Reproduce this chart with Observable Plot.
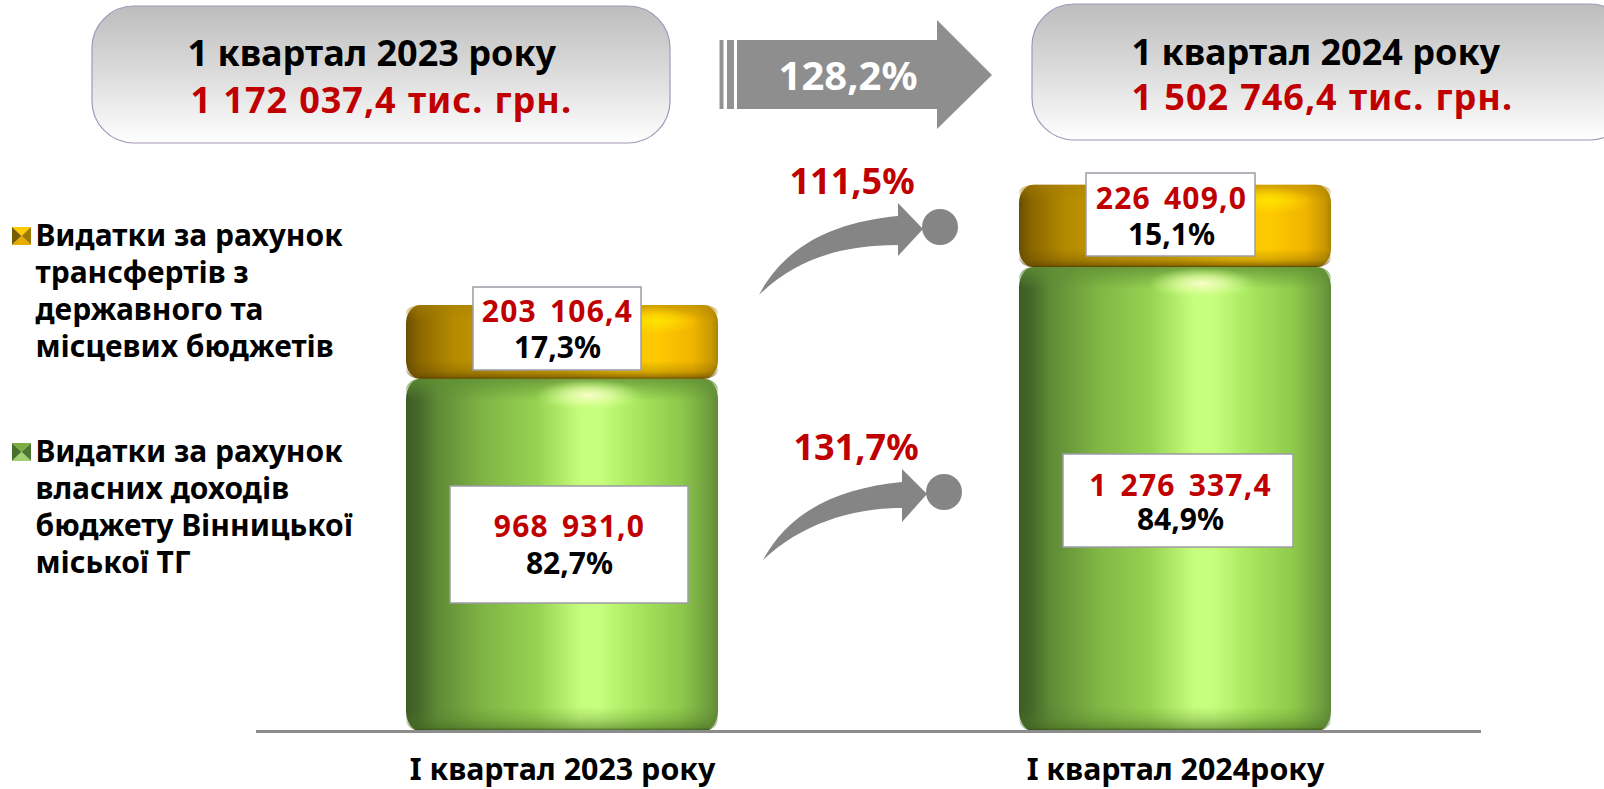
<!DOCTYPE html>
<html lang="uk">
<head>
<meta charset="utf-8">
<script src="https://cdn.jsdelivr.net/npm/d3@7"></script>
<script src="https://cdn.jsdelivr.net/npm/@observablehq/plot@0.6"></script>
<style>
html,body{margin:0;padding:0;background:#fff;overflow:hidden}
svg{display:block}
</style>
</head>
<body>
<div id="chart"></div>
<script>
// ---------- data ----------
const quarters = ["I квартал 2023 року", "I квартал 2024року"];
const ownIncome = [968931.0, 1276337.4];
const transfers = [203106.4, 226409.0];
const ownShare = ["82,7%", "84,9%"];
const transferShare = ["17,3%", "15,1%"];
const ownGrowth = "131,7%";
const transferGrowth = "111,5%";
const totalGrowth = "128,2%";
const headerTitles = ["1 квартал 2023 року", "1 квартал 2024 року"];
const headerTotals = ["1 172 037,4 тис. грн.", "1 502 746,4 тис. грн."];
const legendEntries = [
  "Видатки за рахунок\nтрансфертів з\nдержавного та\nмісцевих бюджетів",
  "Видатки за рахунок\nвласних доходів\nбюджету Вінницької\nміської ТГ"
];

// ---------- layout ----------
const W = 1604, H = 789, mL = 256, mR = 123, base = 731;
const yMax = 2011000;
const pxPerUnit = base / yMax;
const u = px => px / pxPerUnit;          // pixels -> data units
const uAt = py => (base - py) / pxPerUnit;
const F = "'Noto Sans', sans-serif";
const RED = "#c00000";

const fmt = d3.formatLocale({decimal: ",", thousands: " ", grouping: [3], currency: ["", ""]}).format(",.1f");

const rows = quarters.map((q, i) => ({
  quarter: q, own: ownIncome[i], transfer: transfers[i],
  top: ownIncome[i] + transfers[i],
  ownShare: ownShare[i], transferShare: transferShare[i]
}));

const stops = (g, list) => list.forEach(([o, c, a]) => g.append("stop").attr("offset", o).attr("stop-color", c).attr("stop-opacity", a ?? 1));
function defs() {
  const d = d3.create("svg:defs");
  const lin = (id, vertical) => d.append("linearGradient").attr("id", id).attr("x1", 0).attr("y1", 0).attr("x2", vertical ? 0 : 1).attr("y2", vertical ? 1 : 0);
  stops(lin("greenH"), [[0,"#3d5c24"],[.04,"#45682a"],[.1,"#5f8a36"],[.25,"#7fb545"],[.42,"#97d352"],[.56,"#c6fd7c"],[.62,"#c6ff7e"],[.74,"#a8e75e"],[.88,"#8ec94b"],[.97,"#709f3e"],[1,"#5f8a38"]]);
  stops(lin("goldH"), [[0,"#6b4f00"],[.04,"#8a6600"],[.15,"#b48a00"],[.32,"#c89c00"],[.5,"#d8aa00"],[.68,"#f8c400"],[.8,"#ffca00"],[.92,"#f0b400"],[.98,"#c89800"],[1,"#a88400"]]);
  stops(lin("greenTop", true), [[0,"#5f8f34",.8],[1,"#5f8f34",0]]);
  stops(lin("greenBottom", true), [[0,"#4f7a28",0],[.45,"#4f7a28",.22],[.85,"#44681f",.5],[1,"#2e4718",.9]]);
  stops(lin("goldTop", true), [[0,"#a87f00",.55],[1,"#a87f00",0]]);
  stops(lin("goldBottom", true), [[0,"#5c4300",0],[.6,"#5c4300",.25],[.9,"#5c4300",.6],[1,"#4a3600",.95]]);
  stops(lin("header", true), [[0,"#bdbdbd"],[.5,"#dcdcdc"],[1,"#ffffff"]]);
  const r = d.append("radialGradient").attr("id", "greenGlow");
  stops(r, [[0,"#f8ffc8",1],[.45,"#e6ffa8",.7],[1,"#c6ff7e",0]]);
  const rg = d.append("radialGradient").attr("id", "goldGlow");
  stops(rg, [[0,"#ffe400",1],[.5,"#ffdc00",.6],[1,"#ffd000",0]]);
  return d.node();
}

const headerBoxes = () => {
  const g = d3.create("svg:g");
  [[92, 6, 578, 137], [1032, 4, 600, 136]].forEach(([x, y, w, h]) =>
    g.append("rect").attr("x", x).attr("y", y).attr("width", w).attr("height", h).attr("rx", 42)
      .attr("fill", "url(#header)").attr("stroke", "#a596b8").attr("stroke-width", 1.2));
  return g.node();
};

const arrows = () => {
  const g = d3.create("svg:g").attr("fill", "#858585");
  // big arrow
  g.append("path").attr("fill", "#8e8e8e").attr("d", "M737,40H937V20L992,75L937,129V109H737Z");
  [[719.5, 4], [727, 7]].forEach(([x, w]) => g.append("rect").attr("x", x).attr("y", 40).attr("width", w).attr("height", 69).attr("fill", "#939393"));
  // curved arrows with the ball at their head
  g.append("path").attr("d", "M759,295C785,245 835,222 898,216V203L923,229L898,256V245C840,245 795,260 759,295Z");
  g.append("ellipse").attr("cx", 940).attr("cy", 227).attr("rx", 18).attr("ry", 18);
  g.append("path").attr("d", "M763,560C790,510 840,488 902,482V469L927,494L902,522V508C850,508 800,525 763,560Z");
  g.append("ellipse").attr("cx", 944).attr("cy", 492).attr("rx", 18).attr("ry", 18);
  return g.node();
};

const legendMarkers = () => {
  const g = d3.create("svg:g");
  const tile = (y, c) => {
    const [x0, x1, y0, y1] = [12, 31, y, y + 18];
    const cx = (x0 + x1) / 2, cy = (y0 + y1) / 2;
    g.append("path").attr("fill", c[0]).attr("d", `M${x0},${y0}H${x1}L${cx},${cy}Z`);
    g.append("path").attr("fill", c[1]).attr("d", `M${x0},${y0}V${y1}L${cx},${cy}Z`);
    g.append("path").attr("fill", c[2]).attr("d", `M${x1},${y0}V${y1}L${cx},${cy}Z`);
    g.append("path").attr("fill", c[3]).attr("d", `M${x0},${y1}H${x1}L${cx},${cy}Z`);
  };
  tile(227, ["#ffcc00", "#7a5c00", "#a07a00", "#e6ac00"]);
  tile(443, ["#7bb040", "#4a6f2a", "#4f7630", "#a0d070"]);
  return g.node();
};

// white label boxes: [quarter index, top, bottom, left, right] in px
const bandLeft = [406, 1019], bandW = 312;
const boxes = [[0,287,370,473,641],[1,173,256,1086,1255],[0,486,603,450,688],[1,454,547,1063,1293]];
const boxMarks = boxes.map(([i, t, b, l, r]) => Plot.barY([rows[i]], {
  x: "quarter", y1: () => uAt(b), y2: () => uAt(t),
  insetLeft: l - bandLeft[i], insetRight: bandLeft[i] + bandW - r,
  fill: "white", stroke: "#9c9ca8", strokeWidth: 1.5
}));

// segment labels: baseline offsets from the segment's middle
const segLabel = (i, value, text, dx, dy, fill) => Plot.text([rows[i]], {
  x: "quarter", y: () => value, text: () => text, dx, dy, lineAnchor: "bottom",
  fontFamily: F, fontWeight: 700, fontSize: 30, fill
});
const segLabels = rows.flatMap((d, i) => {
  const gm = d.own + d.transfer / 2, om = d.own / 2;
  const g = [[-5,-20,16],[-4,-17,19]][i], o = [[7,-18,19],[5,-4,30]][i];
  return [
    segLabel(i, gm, fmt(d.transfer), g[0], g[1], RED),
    segLabel(i, gm, d.transferShare, g[0], g[2], "black"),
    segLabel(i, om, fmt(d.own), o[0], o[1], RED),
    segLabel(i, om, d.ownShare, o[0], o[2], "black")
  ];
});

// free text placed from the frame's corner
const txt = (t, x, y, size, fill, extra = {}) => Plot.text([t], {
  text: d => d, frameAnchor: "top-left", dx: x - mL, dy: y, lineAnchor: "bottom",
  fontFamily: F, fontWeight: 700, fontSize: size, fill, ...extra
});

const chart = Plot.plot({
  width: W, height: H, marginLeft: mL, marginRight: mR, marginTop: 0, marginBottom: H - base,
  style: {background: "white", fontFamily: F},
  x: {domain: quarters, paddingInner: 0.491, paddingOuter: 0.244, label: null},
  y: {domain: [0, yMax], axis: null},
  marks: [
    defs,
    headerBoxes,
    arrows,
    legendMarkers,
    // green segments
    Plot.barY(rows, {x: "quarter", y1: 0, y2: "own", fill: "url(#greenH)", rx: 15, ry: 20}),
    Plot.barY(rows, {x: "quarter", y1: d => d.own - u(22), y2: "own", fill: "url(#greenTop)", rx: 15, ry: 20}),
    Plot.barY(rows, {x: "quarter", y1: 0, y2: u(24), fill: "url(#greenBottom)", rx: 15, ry: 20}),
    Plot.barY(rows, {x: "quarter", y1: d => d.own - u(32), y2: d => d.own - u(1), insetLeft: 129, insetRight: 75, fill: "url(#greenGlow)"}),
    // gold segments
    Plot.barY(rows, {x: "quarter", y1: "own", y2: "top", fill: "url(#goldH)", rx: 15, ry: 18}),
    Plot.barY(rows, {x: "quarter", y1: d => d.top - u(16), y2: "top", fill: "url(#goldTop)", rx: 15, ry: 18}),
    Plot.barY(rows, {x: "quarter", y1: d => d.top - u(30), y2: d => d.top - u(2), insetLeft: 205, insetRight: 18, fill: "url(#goldGlow)"}),
    Plot.barY(rows, {x: "quarter", y1: "own", y2: d => d.own + u(18), fill: "url(#goldBottom)", rx: 15, ry: 12}),
    boxMarks,
    segLabels,
    Plot.ruleY([0], {stroke: "#8c8c8c", strokeWidth: 3}),
    Plot.axisX({tickSize: 0, tickPadding: 27, fontSize: 30.4, fontWeight: 700, fontFamily: F, fill: "black", label: null}),
    // header text
    txt(headerTitles[0], 187, 65, 36, "black"),
    txt(headerTotals[0], 190, 112, 36, RED),
    txt(headerTitles[1], 1131, 64, 36, "black"),
    txt(headerTotals[1], 1131, 109, 36, RED),
    txt(totalGrowth, 778, 89, 40, "white"),
    txt(transferGrowth, 789, 193, 36, RED),
    txt(ownGrowth, 793, 459, 36, RED),
    txt(legendEntries[0], 35, 356, 30, "black", {lineHeight: 1.233}),
    txt(legendEntries[1], 35, 572, 30, "black", {lineHeight: 1.233})
  ]
});
document.getElementById("chart").append(chart);

// the reference sets its numbers with slightly wider letter and word gaps
const valueTexts = new Set(rows.flatMap(d => [fmt(d.own), fmt(d.transfer)]));
chart.querySelectorAll("text").forEach(t => {
  const s = t.textContent;
  if (valueTexts.has(s)) { t.style.letterSpacing = "1.2px"; t.style.wordSpacing = "4px"; }
  if (headerTotals.includes(s)) { t.style.letterSpacing = "0.95px"; t.style.wordSpacing = "1px"; }
});
</script>
</body>
</html>
